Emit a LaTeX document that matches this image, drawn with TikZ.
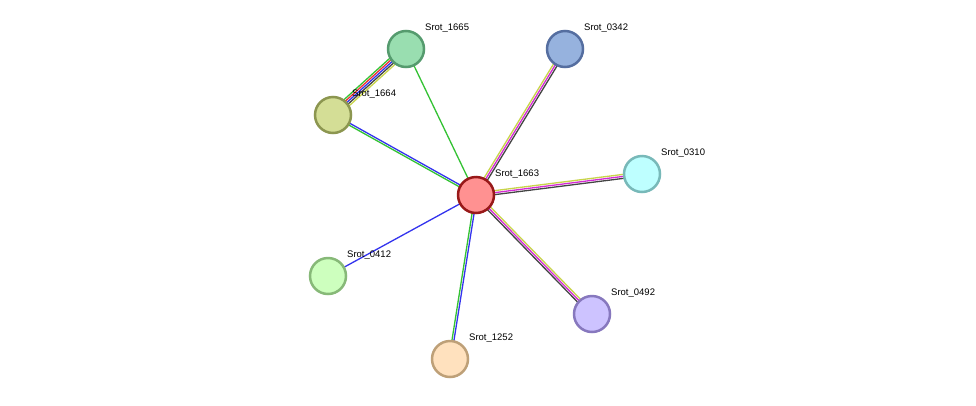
\documentclass[tikz,border=0pt]{standalone}
\usepackage{fontspec}
\setmainfont{Liberation Sans}
\usetikzlibrary{calc}
\newcommand\edgeln[4]{\draw[#1,line width=1.3pt] ($(#3)!#2!90:(#4)$) -- ($(#4)!#2!-90:(#3)$);}
\begin{document}
\begin{tikzpicture}[x=1pt,y=-1pt,
  prot/.style={circle,minimum size=36pt,inner sep=0pt,line width=2.5pt},
  lbl/.style={font=\fontsize{9.5}{11}\selectfont,anchor=south west,inner sep=0pt}]
\useasboundingbox[fill=white] (0,0) rectangle (976,405);
\definecolor{ygreen}{HTML}{C8D44A}
\definecolor{mag}{HTML}{D42AD4}
\definecolor{dgray}{HTML}{444444}
\definecolor{egreen}{HTML}{33C233}
\definecolor{eblue}{HTML}{3333EE}
\definecolor{ered}{HTML}{EE3333}
\coordinate (c1663) at (476,195);
\coordinate (c1665) at (406,49);
\coordinate (c1664) at (333,115);
\coordinate (c0342) at (565,49);
\coordinate (c0310) at (642,174);
\coordinate (c0412) at (328,276);
\coordinate (c1252) at (450,359);
\coordinate (c0492) at (592,314);
% edges
\edgeln{egreen}{4pt}{c1664}{c1665}
\edgeln{ered}{2pt}{c1664}{c1665}
\edgeln{eblue}{0pt}{c1664}{c1665}
\edgeln{dgray}{-2pt}{c1664}{c1665}
\edgeln{ygreen}{-4pt}{c1664}{c1665}
\edgeln{eblue}{1pt}{c1664}{c1663}
\edgeln{egreen}{-1pt}{c1664}{c1663}
\edgeln{egreen}{0pt}{c1665}{c1663}
\edgeln{ygreen}{2pt}{c1663}{c0342}
\edgeln{mag}{0pt}{c1663}{c0342}
\edgeln{dgray}{-2pt}{c1663}{c0342}
\edgeln{ygreen}{2pt}{c1663}{c0310}
\edgeln{mag}{0pt}{c1663}{c0310}
\edgeln{dgray}{-2pt}{c1663}{c0310}
\edgeln{ygreen}{2pt}{c1663}{c0492}
\edgeln{mag}{0pt}{c1663}{c0492}
\edgeln{dgray}{-2pt}{c1663}{c0492}
\edgeln{egreen}{-1pt}{c1663}{c1252}
\edgeln{eblue}{1pt}{c1663}{c1252}
\edgeln{eblue}{0pt}{c1663}{c0412}
% nodes
\node[prot,draw=red!55!black!90,fill={rgb,255:red,255;green,145;blue,145}] (n1663) at (c1663) {};
\node[prot,draw={rgb,255:red,85;green,155;blue,110},fill={rgb,255:red,153;green,222;blue,176}] (n1665) at (c1665) {};
\node[prot,draw={rgb,255:red,140;green,150;blue,80},fill={rgb,255:red,212;green,222;blue,150}] (n1664) at (c1664) {};
\node[prot,draw={rgb,255:red,85;green,110;blue,160},fill={rgb,255:red,150;green,178;blue,222}] (n0342) at (c0342) {};
\node[prot,draw={rgb,255:red,120;green,185;blue,185},fill={rgb,255:red,190;green,255;blue,255}] (n0310) at (c0310) {};
\node[prot,draw={rgb,255:red,135;green,185;blue,120},fill={rgb,255:red,205;green,255;blue,190}] (n0412) at (c0412) {};
\node[prot,draw={rgb,255:red,190;green,160;blue,120},fill={rgb,255:red,255;green,225;blue,190}] (n1252) at (c1252) {};
\node[prot,draw={rgb,255:red,135;green,120;blue,190},fill={rgb,255:red,205;green,195;blue,255}] (n0492) at (c0492) {};
% labels
\node[lbl] (l1663) at (495,179) {Srot\_1663};
\node[lbl] (l1665) at (425,33) {Srot\_1665};
\node[lbl] (l1664) at (352,99) {Srot\_1664};
\node[lbl] (l0342) at (584,33) {Srot\_0342};
\node[lbl] (l0310) at (661,158) {Srot\_0310};
\node[lbl] (l0412) at (347,260) {Srot\_0412};
\node[lbl] (l1252) at (469,343) {Srot\_1252};
\node[lbl] (l0492) at (611,298) {Srot\_0492};
\end{tikzpicture}
\end{document}
